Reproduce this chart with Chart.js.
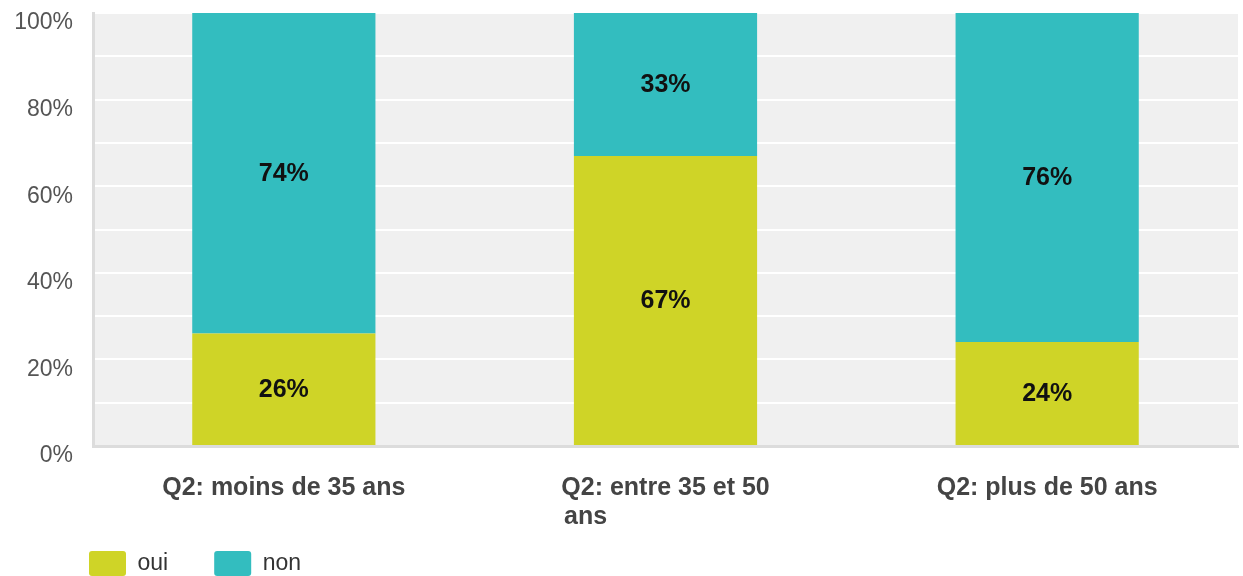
<!DOCTYPE html>
<html>
<head>
<meta charset="utf-8">
<script src="https://cdn.jsdelivr.net/npm/chart.js@4/dist/chart.umd.min.js"></script>
<style>
  html, body { margin: 0; padding: 0; background: #fff; overflow: hidden; }
  #wrap { width: 1243px; height: 576px; position: relative; }
</style>
</head>
<body>
<div id="wrap"><canvas id="c"></canvas></div>
<script>
// ---- data ----
const categoryLines = [
  ['Q2: moins de 35 ans'],
  ['Q2: entre 35 et 50', 'ans'],
  ['Q2: plus de 50 ans']
];
const seriesNames = ['oui', 'non'];
const ouiValues = [26, 67, 24];
const nonValues = [74, 33, 76];
const yTickValues = [0, 20, 40, 60, 80, 100];
const yGridStep = 10;

// ---- styles ----
const FONT = '"Liberation Sans", Arial, sans-serif';
const xFont = { family: FONT, size: 25, weight: 'bold', lineHeight: 1.15 };
const colors = ['#CFD427', '#33BDBF'];

// pad shorter lines with spaces so a wrapped label reads left-aligned as a block
function padLines(lines) {
  if (lines.length < 2) return lines;
  const ctx = document.createElement('canvas').getContext('2d');
  ctx.font = 'bold ' + xFont.size + 'px ' + FONT;
  const maxW = Math.max(...lines.map(l => ctx.measureText(l).width));
  return lines.map(l => {
    let s = l;
    while (ctx.measureText(s + ' ').width <= maxW + 1) s += ' ';
    return s;
  });
}
const categories = categoryLines.map(padLines);

const plotBg = {
  id: 'plotBg',
  beforeDraw(chart) {
    const { ctx, chartArea: a } = chart;
    ctx.save();
    ctx.fillStyle = '#f0f0f0';
    ctx.fillRect(a.left, a.top, a.right - a.left, a.bottom - a.top);
    ctx.restore();
  }
};

// place the legend row at the bottom-left, overlapping the x-label band like the original
const legendPlace = {
  id: 'legendPlace',
  afterLayout(chart) {
    const lg = chart.legend;
    if (!lg) return;
    lg.left = 43;
    lg.top = 505;
    lg.bottom = chart.height;
    lg.height = lg.bottom - lg.top;
    lg.width = lg.right - lg.left;
  }
};

const barLabels = {
  id: 'barLabels',
  afterDatasetsDraw(chart) {
    const ctx = chart.ctx;
    ctx.save();
    ctx.font = 'bold 25px ' + FONT;
    ctx.fillStyle = '#111';
    ctx.textAlign = 'center';
    ctx.textBaseline = 'middle';
    chart.data.datasets.forEach((ds, di) => {
      const meta = chart.getDatasetMeta(di);
      meta.data.forEach((bar, i) => {
        const p = bar.getProps(['x', 'y', 'base'], true);
        ctx.fillText(ds.data[i] + '%', p.x, (p.y + p.base) / 2 + 1);
      });
    });
    ctx.restore();
  }
};

new Chart(document.getElementById('c'), {
  type: 'bar',
  data: {
    labels: categories,
    datasets: [
      { label: seriesNames[0], data: ouiValues, backgroundColor: colors[0], borderWidth: 0 },
      { label: seriesNames[1], data: nonValues, backgroundColor: colors[1], borderWidth: 0 }
    ]
  },
  plugins: [plotBg, legendPlace, barLabels],
  options: {
    responsive: true,
    maintainAspectRatio: false,
    animation: false,
    layout: { padding: { left: 0, right: 5, top: 13, bottom: 0 } },
    datasets: { bar: { categoryPercentage: 1.0, barPercentage: 0.48 } },
    scales: {
      x: {
        stacked: true,
        grid: { display: true, color: 'rgba(0,0,0,0)', drawTicks: false },
        border: { display: true, color: '#dcdcdc', width: 3 },
        ticks: { font: xFont, color: '#444', padding: 28, maxRotation: 0, autoSkip: false },
        afterFit(scale) { scale.height = 86; }
      },
      y: {
        stacked: true,
        min: 0,
        max: 100,
        grid: { color: '#ffffff', lineWidth: 2, drawTicks: true, tickLength: 20, tickColor: 'rgba(0,0,0,0)' },
        border: { display: true, color: '#dcdcdc', width: 3 },
        ticks: {
          stepSize: yGridStep,
          font: { family: FONT, size: 23, lineHeight: 1.0 },
          color: '#555',
          padding: 0,
          labelOffset: 10,
          callback: (v) => yTickValues.includes(v) ? v + '%' : ''
        },
        afterFit(scale) { scale.width = 93; }
      }
    },
    plugins: {
      tooltip: { enabled: false },
      legend: {
        position: 'bottom',
        align: 'start',
        maxHeight: 44,
        labels: {
          boxWidth: 37,
          boxHeight: 25,
          padding: 46,
          useBorderRadius: true,
          borderRadius: 3,
          color: '#333',
          font: { family: FONT, size: 23 }
        }
      }
    }
  }
});
</script>
</body>
</html>
